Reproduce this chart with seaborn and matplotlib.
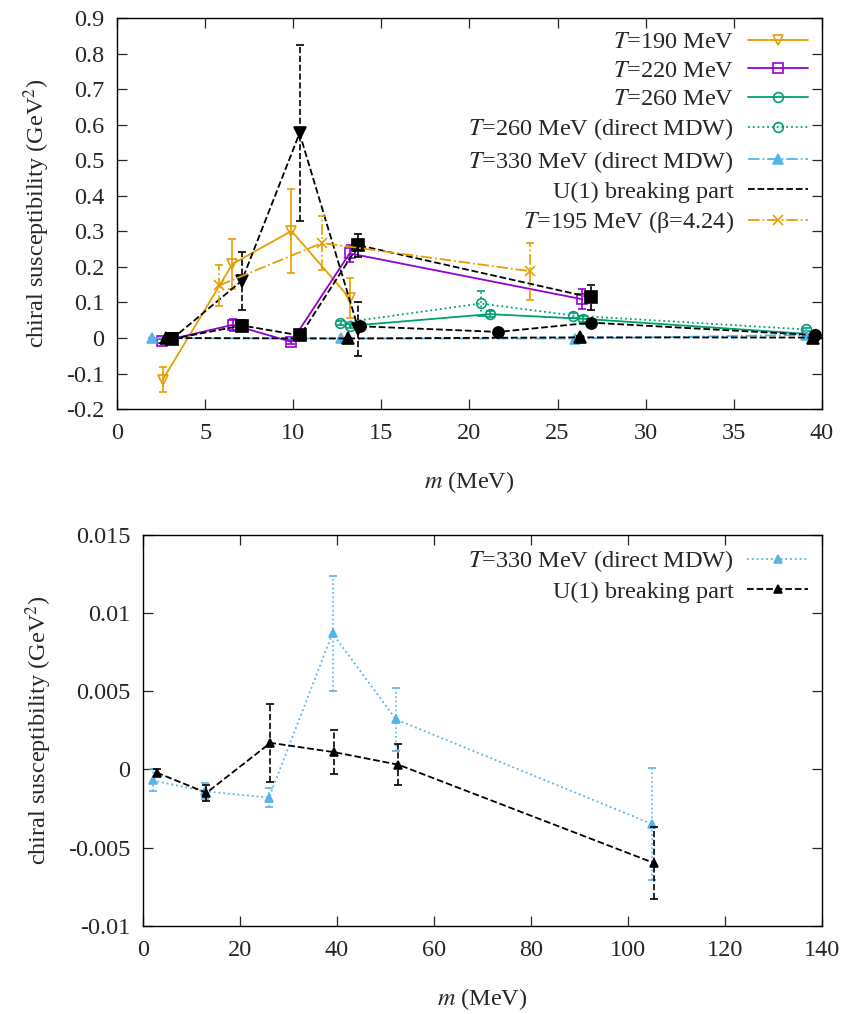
"""
Chiral susceptibility vs quark mass, two panels
"""

import numpy as np
import matplotlib
matplotlib.use('Agg')
import matplotlib.pyplot as plt
from matplotlib.lines import Line2D
import seaborn as sns

# top panel data (m in MeV, chi in GeV^2)
m_190 = [2.6, 6.55, 9.9, 13.2]
chi_190 = [-0.117, 0.208, 0.301, 0.112]
err_190 = [0.035, 0.071, 0.118, 0.057]

m_220 = [2.57, 6.57, 9.9, 13.2, 26.4]
chi_220 = [-0.009, 0.037, -0.011, 0.238, 0.109]
err_220 = [0.005, 0.017, 0.005, 0.024, 0.028]

m_260 = [13.2, 21.15, 26.44, 39.6]
chi_260 = [0.034, 0.067, 0.054, 0.010]
err_260 = [0.006, 0.008, 0.008, 0.005]

m_260d = [12.67, 20.64, 25.9, 39.1]
chi_260d = [0.042, 0.097, 0.063, 0.024]
err_260d = [0.006, 0.034, 0.006, 0.004]

m_195 = [5.81, 11.63, 23.42]
chi_195 = [0.148, 0.267, 0.188]
err_195 = [0.057, 0.075, 0.08]

# U(1) breaking parts
m_u190 = [3.1, 7.08, 10.36, 13.7]
chi_u190 = [-0.004, 0.161, 0.576, 0.025]
err_u190 = [0.006, 0.082, 0.248, 0.076]

m_u220 = [3.1, 7.1, 10.4, 13.7, 26.9]
chi_u220 = [-0.003, 0.035, 0.007, 0.261, 0.114]
err_u220 = [0.005, 0.015, 0.006, 0.032, 0.035]

m_u260 = [13.77, 21.64, 26.92, 39.6]
chi_u260 = [0.033, 0.017, 0.043, 0.008]
err_u260 = [0.008, 0.006, 0.01, 0.004]

# T=330 MeV, used in both panels
m_330 = [2.0, 12.7, 26.0, 39.1, 52.2, 105.1]
chi_330 = [-0.0007, -0.0014, -0.0018, 0.0087, 0.0032, -0.0035]
err_330 = [0.0007, 0.0005, 0.0006, 0.0037, 0.002, 0.0036]

m_u330 = [2.8, 13.1, 26.3, 39.5, 52.7, 105.5]
chi_u330 = [-0.0002, -0.0015, 0.0017, 0.0011, 0.0003, -0.0060]
err_u330 = [0.0002, 0.0005, 0.0025, 0.0014, 0.0013, 0.0023]

top_yticks = [-0.2, -0.1, 0, 0.1, 0.2, 0.3, 0.4, 0.5, 0.6, 0.7, 0.8, 0.9]
bot_yticks = [-0.01, -0.005, 0, 0.005, 0.01, 0.015]

ORANGE = '#e69f00'
PURPLE = '#9400d3'
GREEN = '#009e73'
CYAN = '#56b4e9'
FS = 17.5

sns.set_theme(style='ticks')
plt.rcParams['font.family'] = 'serif'
plt.rcParams['font.serif'] = ['Liberation Serif', 'DejaVu Serif']
plt.rcParams['mathtext.fontset'] = 'stix'
plt.rcParams['axes.unicode_minus'] = False
plt.rcParams['font.size'] = FS


def draw(ax, m, v, err, color, marker, ls, filled=True, label=None, ms=7):
    sns.lineplot(x=m, y=v, ax=ax, color=color, marker=marker, linestyle=ls,
                 label=label, sort=False, estimator=None, errorbar=None,
                 markersize=ms, markerfacecolor=color if filled else 'none',
                 markeredgecolor=color, markeredgewidth=1.2, linewidth=1.3)
    eb = ax.errorbar(m, v, yerr=err, fmt='none', ecolor=color,
                     elinewidth=1.2, capsize=3, capthick=1.2)
    eb[2][0].set_linestyle(ls)


def style_axes(ax):
    ax.tick_params(direction='in', top=True, right=True, length=7,
                   width=0.9, labelsize=FS)
    ax.tick_params(axis='y', pad=9)
    ax.tick_params(axis='x', pad=10)
    for s in ax.spines.values():
        s.set_linewidth(1.0)
        s.set_color('black')


def add_legend(ax, handles, labels):
    ax.legend(handles, labels, loc='upper right', frameon=False, markerfirst=False,
              fontsize=FS, labelspacing=0.26, handlelength=2.5,
              handletextpad=0.55, borderpad=0.25, borderaxespad=0.3)


fig = plt.figure(figsize=(8.42, 10.14), dpi=100)
ax1 = fig.add_axes([0.139, 0.5966, 0.837, 0.3856])
ax2 = fig.add_axes([0.1698, 0.0871, 0.806, 0.3853])

# top panel
draw(ax1, m_190, chi_190, err_190, ORANGE, 'v', '-', filled=False, label='$T$=190 MeV')
draw(ax1, m_220, chi_220, err_220, PURPLE, 's', '-', filled=False, label='$T$=220 MeV')
draw(ax1, m_260, chi_260, err_260, GREEN, 'o', '-', filled=False, label='$T$=260 MeV')
draw(ax1, m_260d, chi_260d, err_260d, GREEN, 'o', ':', filled=False,
     label='$T$=260 MeV (direct MDW)')
draw(ax1, m_330, chi_330, err_330, CYAN, '^', '-.', label='$T$=330 MeV (direct MDW)')
draw(ax1, m_u190, chi_u190, err_u190, 'black', 'v', '--', ms=8)
draw(ax1, m_u220, chi_u220, err_u220, 'black', 's', '--', ms=8)
draw(ax1, m_u260, chi_u260, err_u260, 'black', 'o', '--', ms=8)
draw(ax1, m_u330, chi_u330, err_u330, 'black', '^', '--', ms=8)
draw(ax1, m_195, chi_195, err_195, ORANGE, 'x', '-.', label='$T$=195 MeV (β=4.24)')

handles, labels = ax1.get_legend_handles_labels()
u1 = Line2D([], [], color='black', linestyle='--', linewidth=1.3)
handles = handles[:5] + [u1] + handles[5:]
labels = labels[:5] + ['U(1) breaking part'] + labels[5:]
add_legend(ax1, handles, labels)

ax1.set_xlim(0, 40)
ax1.set_ylim(-0.2, 0.9)
ax1.set_xticks(np.arange(0, 41, 5))
ax1.set_yticks(top_yticks)
ax1.set_yticklabels(['%g' % t for t in top_yticks])
ax1.set_xlabel('$m$ (MeV)', fontsize=FS, labelpad=18)
ax1.set_ylabel('chiral susceptibility (GeV$^2$)', fontsize=FS, labelpad=10)
style_axes(ax1)

# bottom panel
draw(ax2, m_330, chi_330, err_330, CYAN, '^', ':', label='$T$=330 MeV (direct MDW)', ms=6)
draw(ax2, m_u330, chi_u330, err_u330, 'black', '^', '--', label='U(1) breaking part', ms=6)
h2, l2 = ax2.get_legend_handles_labels()
add_legend(ax2, h2, l2)
ax2.set_xlim(0, 140)
ax2.set_ylim(-0.01, 0.015)
ax2.set_xticks(np.arange(0, 141, 20))
ax2.set_yticks(bot_yticks)
ax2.set_yticklabels(['%g' % t for t in bot_yticks])
ax2.set_xlabel('$m$ (MeV)', fontsize=FS, labelpad=18)
ax2.set_ylabel('chiral susceptibility (GeV$^2$)', fontsize=FS, labelpad=10)
style_axes(ax2)

fig.savefig('out.png', dpi=100)
plt.close(fig)
